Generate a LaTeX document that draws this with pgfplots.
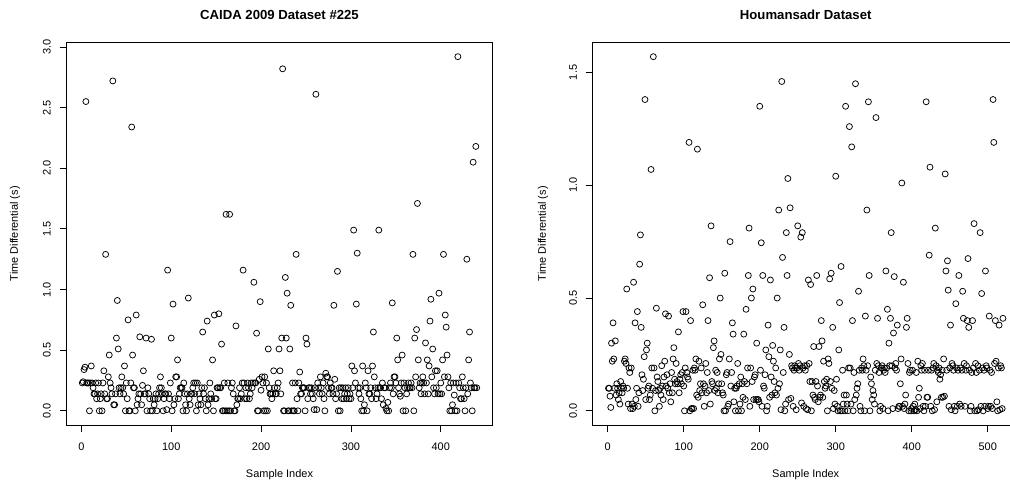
\documentclass[border=0pt]{standalone}
\usepackage{fontspec}
\setmainfont{Liberation Sans}
\usepackage{pgfplots}
\usepackage{pgfplotstable}
\pgfplotsset{compat=1.18}

\pgfplotstableread[row sep=\\, header=false]{
0.23\\ 0.24\\ 0.34\\ 0.36\\ 2.55\\ 0.23\\ 0.23\\ 0.23\\ 0.00\\ 0.23\\
0.37\\ 0.23\\ 0.19\\ 0.14\\ 0.14\\ 0.23\\ 0.10\\ 0.14\\ 0.23\\ 0.00\\
0.10\\ 0.14\\ 0.00\\ 0.23\\ 0.33\\ 0.14\\ 1.29\\ 0.10\\ 0.10\\ 0.28\\
0.46\\ 0.23\\ 0.19\\ 0.14\\ 2.72\\ 0.05\\ 0.05\\ 0.14\\ 0.60\\ 0.91\\
0.51\\ 0.19\\ 0.14\\ 0.19\\ 0.28\\ 0.19\\ 0.14\\ 0.37\\ 0.00\\ 0.23\\
0.10\\ 0.75\\ 0.00\\ 0.00\\ 0.23\\ 2.34\\ 0.46\\ 0.19\\ 0.19\\ 0.00\\
0.79\\ 0.05\\ 0.10\\ 0.14\\ 0.61\\ 0.14\\ 0.05\\ 0.21\\ 0.33\\ 0.14\\
0.14\\ 0.60\\ 0.00\\ 0.19\\ 0.14\\ 0.10\\ 0.00\\ 0.59\\ 0.00\\ 0.10\\
0.05\\ 0.10\\ 0.14\\ 0.00\\ 0.10\\ 0.14\\ 0.19\\ 0.28\\ 0.19\\ 0.14\\
0.00\\ 0.10\\ 0.14\\ 0.14\\ 0.01\\ 1.16\\ 0.14\\ 0.10\\ 0.23\\ 0.60\\
0.00\\ 0.88\\ 0.05\\ 0.10\\ 0.28\\ 0.28\\ 0.42\\ 0.10\\ 0.14\\ 0.19\\
0.19\\ 0.19\\ 0.00\\ 0.23\\ 0.14\\ 0.05\\ 0.00\\ 0.14\\ 0.93\\ 0.10\\
0.05\\ 0.14\\ 0.14\\ 0.19\\ 0.23\\ 0.14\\ 0.23\\ 0.00\\ 0.23\\ 0.05\\
0.14\\ 0.10\\ 0.05\\ 0.19\\ 0.65\\ 0.14\\ 0.19\\ 0.10\\ 0.00\\ 0.74\\
0.05\\ 0.10\\ 0.23\\ 0.14\\ 0.10\\ 0.42\\ 0.00\\ 0.79\\ 0.10\\ 0.10\\
0.19\\ 0.19\\ 0.80\\ 0.19\\ 0.19\\ 0.55\\ 0.00\\ 0.00\\ 0.23\\ 0.00\\
1.62\\ 0.00\\ 0.23\\ 0.00\\ 1.62\\ 0.00\\ 0.19\\ 0.23\\ 0.14\\ 0.00\\
0.00\\ 0.70\\ 0.05\\ 0.10\\ 0.10\\ 0.19\\ 0.10\\ 0.14\\ 0.23\\ 1.16\\
0.23\\ 0.10\\ 0.19\\ 0.10\\ 0.23\\ 0.19\\ 0.10\\ 0.14\\ 0.23\\ 0.19\\
0.23\\ 1.06\\ 0.23\\ 0.23\\ 0.64\\ 0.00\\ 0.00\\ 0.26\\ 0.90\\ 0.17\\
0.28\\ 0.23\\ 0.00\\ 0.28\\ 0.00\\ 0.23\\ 0.00\\ 0.51\\ 0.19\\ 0.14\\
0.14\\ 0.10\\ 0.14\\ 0.33\\ 0.19\\ 0.14\\ 0.14\\ 0.19\\ 0.23\\ 0.51\\
0.33\\ 0.14\\ 0.60\\ 2.82\\ 0.00\\ 0.00\\ 1.10\\ 0.60\\ 0.97\\ 0.00\\
0.00\\ 0.51\\ 0.87\\ 0.00\\ 0.23\\ 0.00\\ 0.00\\ 0.23\\ 1.29\\ 0.10\\
0.00\\ 0.23\\ 0.32\\ 0.14\\ 0.14\\ 0.19\\ 0.19\\ 0.19\\ 0.00\\ 0.60\\
0.55\\ 0.10\\ 0.19\\ 0.19\\ 0.14\\ 0.19\\ 0.14\\ 0.10\\ 0.01\\ 0.19\\
2.61\\ 0.01\\ 0.23\\ 0.19\\ 0.14\\ 0.28\\ 0.19\\ 0.14\\ 0.23\\ 0.10\\
0.00\\ 0.31\\ 0.28\\ 0.28\\ 0.19\\ 0.14\\ 0.23\\ 0.19\\ 0.19\\ 0.14\\
0.87\\ 0.26\\ 0.10\\ 0.14\\ 1.15\\ 0.00\\ 0.19\\ 0.00\\ 0.19\\ 0.10\\
0.19\\ 0.10\\ 0.14\\ 0.19\\ 0.10\\ 0.14\\ 0.19\\ 0.10\\ 0.14\\ 0.10\\
0.37\\ 0.19\\ 1.49\\ 0.33\\ 0.23\\ 0.88\\ 1.30\\ 0.19\\ 0.14\\ 0.19\\
0.10\\ 0.00\\ 0.37\\ 0.00\\ 0.05\\ 0.23\\ 0.19\\ 0.00\\ 0.33\\ 0.14\\
0.14\\ 0.19\\ 0.10\\ 0.37\\ 0.65\\ 0.28\\ 0.19\\ 0.10\\ 0.14\\ 0.19\\
1.49\\ 0.19\\ 0.19\\ 0.10\\ 0.23\\ 0.05\\ 0.19\\ 0.19\\ 0.02\\ 0.00\\
0.07\\ 0.00\\ 0.19\\ 0.23\\ 0.19\\ 0.89\\ 0.14\\ 0.28\\ 0.28\\ 0.23\\
0.60\\ 0.42\\ 0.19\\ 0.14\\ 0.12\\ 0.23\\ 0.46\\ 0.00\\ 0.23\\ 0.19\\
0.00\\ 0.14\\ 0.19\\ 0.23\\ 0.19\\ 0.19\\ 0.23\\ 0.19\\ 1.29\\ 0.00\\
0.60\\ 0.28\\ 0.67\\ 1.71\\ 0.42\\ 0.19\\ 0.23\\ 0.14\\ 0.23\\ 0.28\\
0.23\\ 0.14\\ 0.56\\ 0.23\\ 0.42\\ 0.14\\ 0.37\\ 0.74\\ 0.92\\ 0.28\\
0.51\\ 0.19\\ 0.14\\ 0.33\\ 0.19\\ 0.33\\ 0.14\\ 0.97\\ 0.14\\ 0.23\\
0.14\\ 0.42\\ 1.29\\ 0.28\\ 0.79\\ 0.69\\ 0.46\\ 0.28\\ 0.19\\ 0.00\\
0.23\\ 0.00\\ 0.05\\ 0.23\\ 0.13\\ 0.00\\ 0.23\\ 0.00\\ 2.92\\ 0.23\\
0.19\\ 0.10\\ 0.10\\ 0.28\\ 0.19\\ 0.10\\ 0.00\\ 0.19\\ 1.25\\ 0.14\\
0.42\\ 0.65\\ 0.23\\ 0.19\\ 0.00\\ 2.05\\ 0.19\\ 0.19\\ 2.18\\ 0.19\\
}\caidadata

\pgfplotstableread[row sep=\\, header=false]{
0.10\\ 0.10\\ 0.065\\ 0.015\\ 0.30\\ 0.22\\ 0.39\\ 0.23\\ 0.10\\ 0.31\\
0.07\\ 0.12\\ 0.10\\ 0.05\\ 0.08\\ 0.03\\ 0.13\\ 0.10\\ 0.08\\ 0.11\\
0.10\\ 0.22\\ 0.23\\ 0.21\\ 0.54\\ 0.10\\ 0.03\\ 0.19\\ 0.17\\ 0.01\\
0.19\\ 0.03\\ 0.01\\ 0.57\\ 0.02\\ 0.39\\ 0.05\\ 0.10\\ 0.44\\ 0.02\\
0.08\\ 0.65\\ 0.78\\ 0.37\\ 0.16\\ 0.09\\ 0.14\\ 0.24\\ 1.38\\ 0.05\\
0.27\\ 0.30\\ 0.10\\ 0.11\\ 0.05\\ 0.07\\ 1.07\\ 0.19\\ 0.10\\ 1.57\\
0.19\\ 0.00\\ 0.09\\ 0.455\\ 0.15\\ 0.13\\ 0.09\\ 0.02\\ 0.10\\ 0.07\\
0.20\\ 0.11\\ 0.05\\ 0.15\\ 0.22\\ 0.43\\ 0.11\\ 0.16\\ 0.10\\ 0.42\\
0.08\\ 0.12\\ 0.04\\ 0.17\\ 0.08\\ 0.23\\ 0.28\\ 0.14\\ 0.12\\ 0.21\\
0.13\\ 0.12\\ 0.35\\ 0.08\\ 0.14\\ 0.16\\ 0.12\\ 0.17\\ 0.44\\ 0.11\\
0.00\\ 0.19\\ 0.44\\ 0.17\\ 0.15\\ 0.14\\ 1.19\\ 0.00\\ 0.40\\ 0.01\\
0.01\\ 0.18\\ 0.01\\ 0.19\\ 0.18\\ 0.23\\ 0.07\\ 1.16\\ 0.06\\ 0.22\\
0.09\\ 0.12\\ 0.19\\ 0.08\\ 0.47\\ 0.12\\ 0.02\\ 0.11\\ 0.21\\ 0.08\\
0.17\\ 0.40\\ 0.09\\ 0.59\\ 0.03\\ 0.82\\ 0.13\\ 0.12\\ 0.28\\ 0.31\\
0.09\\ 0.18\\ 0.10\\ 0.17\\ 0.08\\ 0.12\\ 0.23\\ 0.50\\ 0.25\\ 0.12\\
0.08\\ 0.07\\ 0.00\\ 0.61\\ 0.00\\ 0.16\\ 0.17\\ 0.02\\ 0.03\\ 0.23\\
0.75\\ 0.11\\ 0.17\\ 0.39\\ 0.34\\ 0.04\\ 0.10\\ 0.00\\ 0.10\\ 0.11\\
0.21\\ 0.00\\ 0.12\\ 0.03\\ 0.15\\ 0.00\\ 0.12\\ 0.06\\ 0.34\\ 0.13\\
0.05\\ 0.45\\ 0.12\\ 0.19\\ 0.60\\ 0.81\\ 0.02\\ 0.19\\ 0.50\\ 0.13\\
0.54\\ 0.05\\ 0.15\\ 0.16\\ 0.05\\ 0.30\\ 0.05\\ 0.05\\ 0.04\\ 1.35\\
0.18\\ 0.745\\ 0.02\\ 0.60\\ 0.11\\ 0.10\\ 0.16\\ 0.27\\ 0.00\\ 0.02\\
0.38\\ 0.24\\ 0.06\\ 0.58\\ 0.15\\ 0.07\\ 0.29\\ 0.22\\ 0.13\\ 0.08\\
0.19\\ 0.07\\ 0.50\\ 0.10\\ 0.89\\ 0.12\\ 0.27\\ 0.005\\ 1.46\\ 0.68\\
0.17\\ 0.37\\ 0.00\\ 0.03\\ 0.79\\ 0.60\\ 1.03\\ 0.05\\ 0.25\\ 0.90\\
0.055\\ 0.20\\ 0.19\\ 0.02\\ 0.18\\ 0.20\\ 0.19\\ 0.005\\ 0.19\\ 0.82\\
0.21\\ 0.18\\ 0.20\\ 0.77\\ 0.035\\ 0.79\\ 0.19\\ 0.02\\ 0.20\\ 0.18\\
0.01\\ 0.20\\ 0.005\\ 0.58\\ 0.21\\ 0.13\\ 0.56\\ 0.00\\ 0.13\\ 0.07\\
0.285\\ 0.06\\ 0.05\\ 0.13\\ 0.60\\ 0.11\\ 0.04\\ 0.285\\ 0.06\\ 0.07\\
0.40\\ 0.31\\ 0.06\\ 0.22\\ 0.13\\ 0.10\\ 0.11\\ 0.14\\ 0.00\\ 0.23\\
0.21\\ 0.585\\ 0.13\\ 0.61\\ 0.10\\ 0.37\\ 0.01\\ 0.09\\ 0.03\\ 1.04\\
0.14\\ 0.02\\ 0.00\\ 0.27\\ 0.48\\ 0.00\\ 0.64\\ 0.00\\ 0.18\\ 0.03\\
0.07\\ 0.00\\ 1.35\\ 0.07\\ 0.03\\ 0.00\\ 0.19\\ 1.26\\ 0.19\\ 0.03\\
1.17\\ 0.40\\ 0.00\\ 0.17\\ 0.05\\ 1.45\\ 0.07\\ 0.10\\ 0.12\\ 0.53\\
0.18\\ 0.02\\ 0.00\\ 0.19\\ 0.18\\ 0.23\\ 0.20\\ 0.00\\ 0.42\\ 0.18\\
0.89\\ 0.20\\ 1.37\\ 0.60\\ 0.00\\ 0.15\\ 0.12\\ 0.05\\ 0.09\\ 0.07\\
0.03\\ 0.18\\ 1.30\\ 0.21\\ 0.41\\ 0.20\\ 0.17\\ 0.00\\ 0.02\\ 0.19\\
0.20\\ 0.01\\ 0.18\\ 0.19\\ 0.17\\ 0.62\\ 0.19\\ 0.45\\ 0.00\\ 0.30\\
0.20\\ 0.41\\ 0.79\\ 0.20\\ 0.01\\ 0.345\\ 0.595\\ 0.19\\ 0.21\\ 0.18\\
0.38\\ 0.01\\ 0.02\\ 0.02\\ 0.12\\ 0.23\\ 1.01\\ 0.02\\ 0.57\\ 0.01\\
0.03\\ 0.07\\ 0.37\\ 0.41\\ 0.21\\ 0.00\\ 0.17\\ 0.18\\ 0.00\\ 0.01\\
0.18\\ 0.02\\ 0.00\\ 0.03\\ 0.005\\ 0.17\\ 0.00\\ 0.22\\ 0.06\\ 0.10\\
0.01\\ 0.20\\ 0.18\\ 0.21\\ 0.02\\ 0.00\\ 0.18\\ 0.02\\ 1.37\\ 0.06\\
0.06\\ 0.18\\ 0.69\\ 1.08\\ 0.02\\ 0.18\\ 0.00\\ 0.19\\ 0.21\\ 0.005\\
0.81\\ 0.20\\ 0.04\\ 0.18\\ 0.17\\ 0.19\\ 0.14\\ 0.16\\ 0.06\\ 0.18\\
0.06\\ 0.23\\ 0.065\\ 1.05\\ 0.62\\ 0.18\\ 0.665\\ 0.535\\ 0.02\\ 0.19\\
0.38\\ 0.005\\ 0.21\\ 0.20\\ 0.18\\ 0.02\\ 0.00\\ 0.475\\ 0.19\\ 0.02\\
0.18\\ 0.60\\ 0.03\\ 0.19\\ 0.02\\ 0.18\\ 0.53\\ 0.41\\ 0.21\\ 0.02\\
0.18\\ 0.20\\ 0.40\\ 0.675\\ 0.37\\ 0.18\\ 0.00\\ 0.02\\ 0.17\\ 0.40\\
0.19\\ 0.83\\ 0.00\\ 0.21\\ 0.17\\ 0.00\\ 0.20\\ 0.005\\ 0.18\\ 0.79\\
0.02\\ 0.52\\ 0.19\\ 0.00\\ 0.18\\ 0.02\\ 0.62\\ 0.20\\ 0.19\\ 0.01\\
0.02\\ 0.42\\ 0.18\\ 0.02\\ 0.17\\ 0.01\\ 1.38\\ 1.19\\ 0.21\\ 0.40\\
0.22\\ 0.04\\ 0.00\\ 0.19\\ 0.38\\ 0.005\\ 0.20\\ 0.19\\ 0.01\\ 0.41\\
}\houmdata

\pgfplotsset{rstyle/.style={
  scale only axis, width=426bp, height=382.5bp,
  axis line style={line width=0.8bp, black},
  tick align=outside, tick pos=left, major tick length=7bp,
  tick style={black, line width=0.8bp},
  /pgf/number format/assume math mode=true,
  tick label style={font=\fontsize{11}{13}\selectfont},
  label style={font=\fontsize{11}{13}\selectfont},
  title style={font=\bfseries\fontsize{13.2}{15}\selectfont, anchor=center},
  xticklabel style={anchor=north, inner sep=0pt},
  xticklabel shift=11bp,
  yticklabel style={rotate=90, anchor=south, inner sep=0pt,
     /pgf/number format/.cd, fixed, fixed zerofill, precision=1},
  yticklabel shift=8.5bp,
  xlabel style={anchor=center},
  ylabel style={anchor=center},
  xlabel={Sample Index}, ylabel={Time Differential (s)},
}}

\begin{document}
\begin{tikzpicture}
\path[use as bounding box] (0,0) rectangle (1010bp,487bp);
\begin{axis}[rstyle,
  at={(66.5bp,62bp)}, anchor=south west,
  xmin=-16.56, xmax=457.56, ymin=-0.1168, ymax=3.0368,
  xtick={0,100,200,300,400}, ytick={0,0.5,1,1.5,2,2.5,3},
  title={CAIDA 2009 Dataset \#225},
  title style={at={(axis description cs:0.5,1.0575)}},
  xlabel style={at={(axis description cs:0.5,-0.13)}},
  ylabel style={at={(axis description cs:-0.1209,0.5)}},
]
\addplot[only marks, mark=o, mark size=3bp, mark options={line width=0.75bp, black}]
  table[x expr=\coordindex+1, y index=0] {\caidadata};
\end{axis}
\begin{axis}[rstyle,
  at={(592.7bp,62bp)}, anchor=south west,
  xmin=-19.76, xmax=540.76, ymin=-0.0628, ymax=1.6328,
  xtick={0,100,200,300,400,500}, ytick={0,0.5,1,1.5},
  title={Houmansadr Dataset},
  title style={at={(axis description cs:0.5,1.0575)}},
  xlabel style={at={(axis description cs:0.5,-0.13)}},
  ylabel style={at={(axis description cs:-0.1167,0.5)}},
]
\addplot[only marks, mark=o, mark size=3bp, mark options={line width=0.75bp, black}]
  table[x expr=\coordindex+1, y index=0] {\houmdata};
\end{axis}
\end{tikzpicture}
\end{document}
